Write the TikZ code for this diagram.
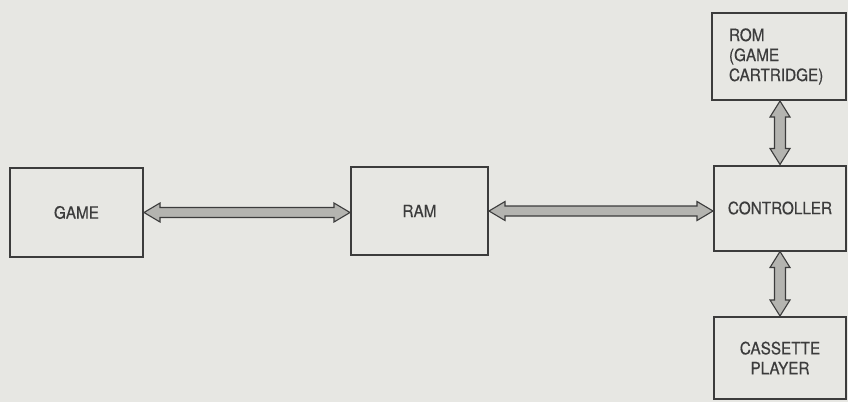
\documentclass[tikz,border=0pt]{standalone}
\usepackage{fontspec}
\setmainfont{TeX Gyre Heros}[FakeStretch=0.9, FakeBold=0.5]
\usetikzlibrary{calc}
\definecolor{bg}{HTML}{E7E7E3}
\definecolor{ink}{HTML}{3C3C3C}
\definecolor{shaft}{HTML}{B4B4B0}
\tikzset{
  blockbox/.style={draw=ink, line width=2pt, fill=bg, text=ink, inner sep=0pt,
    font=\fontsize{17}{20}\selectfont, align=center},
  dblarrow/.style={draw=ink, line width=1.1pt, fill=shaft, line join=miter}
}
\newcommand\hdbl[2]{%
  \coordinate (hA) at (#1.east);
  \coordinate (hB) at (#2.west |- #1.east);
  \draw[dblarrow] (hA) -- ($(hA)+(16,-9.5)$) -- ($(hA)+(16,-5)$) -- ($(hB)+(-16,-5)$)
    -- ($(hB)+(-16,-9.5)$) -- (hB) -- ($(hB)+(-16,9.5)$) -- ($(hB)+(-16,5)$)
    -- ($(hA)+(16,5)$) -- ($(hA)+(16,9.5)$) -- cycle;}
\newcommand\vdbl[2]{%
  \coordinate (vA) at (#2.north);
  \coordinate (vB) at (#1.south -| #2.north);
  \draw[dblarrow] (vA) -- ($(vA)+(-10,-16)$) -- ($(vA)+(-5.5,-16)$) -- ($(vB)+(-5.5,16)$)
    -- ($(vB)+(-10,16)$) -- (vB) -- ($(vB)+(10,16)$) -- ($(vB)+(5.5,16)$)
    -- ($(vA)+(5.5,-16)$) -- ($(vA)+(10,-16)$) -- cycle;}
\begin{document}
\begin{tikzpicture}[x=1pt,y=-1pt]
\fill[bg] (0,0) rectangle (848,402);
\useasboundingbox (0,0) rectangle (848,402);
\node[blockbox, minimum width=133, minimum height=89] (game) at (76.5,212.5) {GAME};
\node[blockbox, minimum width=137, minimum height=88] (ram) at (419.5,211) {RAM};
\node[blockbox, minimum width=132, minimum height=85] (ctrl) at (780,208) {CONTROLLER};
\node[blockbox, minimum width=134, minimum height=87, text width=100, align=left] (rom) at (779,56.5) {ROM\\(GAME\\CARTRIDGE)};
\node[blockbox, minimum width=132, minimum height=82] (cass) at (780,358) {CASSETTE\\PLAYER};
\hdbl{game}{ram}
\hdbl{ram}{ctrl}
\vdbl{rom}{ctrl}
\vdbl{ctrl}{cass}
\end{tikzpicture}
\end{document}
